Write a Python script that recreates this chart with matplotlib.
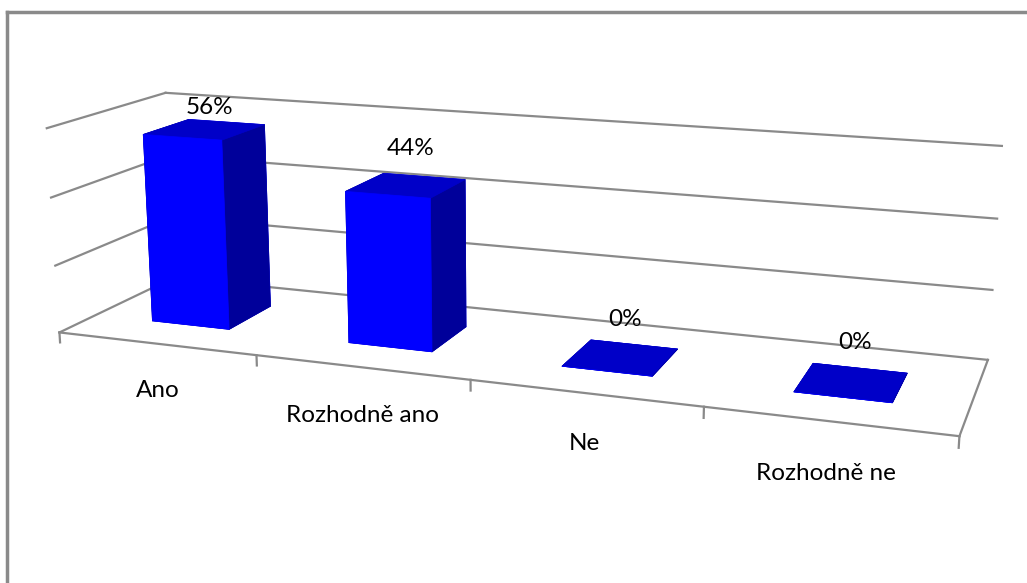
import matplotlib.pyplot as plt
import numpy as np

plt.rcParams['font.family'] = ['Lato', 'DejaVu Sans']

# data
categories = ['Ano', 'Rozhodně ano', 'Ne', 'Rozhodně ne']
values = [0.56, 0.44, 0.0, 0.0]
labels = ['56%', '44%', '0%', '0%']
gridlevels = [0.0, 0.2, 0.4, 0.6]

grey = '#8a8a8a'
c_front = '#0000ff'
c_top = '#0000c8'
c_side = '#00009a'

fig = plt.figure(figsize=(10.27, 5.83), dpi=100)
ax = fig.add_axes([-0.0088, 0.07, 1, 1], projection='3d', computed_zorder=False)
ax.set_proj_type('persp', focal_length=0.584)
ax.view_init(elev=14, azim=-70)
ax.set_xlim(0, 4)
ax.set_ylim(0, 1)
ax.set_zlim(0, 0.6)
ax.set_box_aspect((4, 1.02, 0.94), zoom=1.615)
ax.set_axis_off()

n = len(categories)
lk = dict(color=grey, lw=1.6, zorder=1, clip_on=False)
# walls: only the gridlines
for v in gridlevels:
    ax.plot([0, n], [1, 1], [v, v], **lk)
    ax.plot([0, 0], [0, 1], [v, v], **lk)
# floor outline
ax.plot([0, n], [0, 0], [0, 0], **lk)
ax.plot([n, n], [0, 1], [0, 0], **lk)
for i in range(n + 1):
    ax.plot([i, i], [0, 0], [0, -0.03], **lk)

# bars
xs = np.arange(n) + 0.3
cols = []
for v in values:
    # -z, +z, -y, +y, -x, +x
    cols += [c_top, c_top, c_front, c_front, c_side, c_side]
bars = ax.bar3d(xs, np.full(n, 0.3), np.zeros(n), 0.4, 0.4, values,
                color=cols, edgecolor=cols, linewidth=0.5, shade=False, zorder=2)
bars.set_clip_on(False)

# value labels
for i, (v, s) in enumerate(zip(values, labels)):
    z = min(v + 0.1, 0.62)
    ax.text(i + 0.5, 0.55, z, s, ha='center', va='center', fontsize=17.5, zorder=3)

# category labels
for i, c in enumerate(categories):
    ax.text(i + 0.5, 0, -0.14, c, ha='center', va='center', fontsize=17.5, zorder=3)

# chart border (top and left)
fig.add_artist(plt.Line2D([7 / 1027, 7 / 1027], [0, 1 - 12 / 583], color=grey, lw=2.5))
fig.add_artist(plt.Line2D([7 / 1027, 1], [1 - 12 / 583, 1 - 12 / 583], color=grey, lw=2.5))

fig.savefig('out.png', dpi=100)
